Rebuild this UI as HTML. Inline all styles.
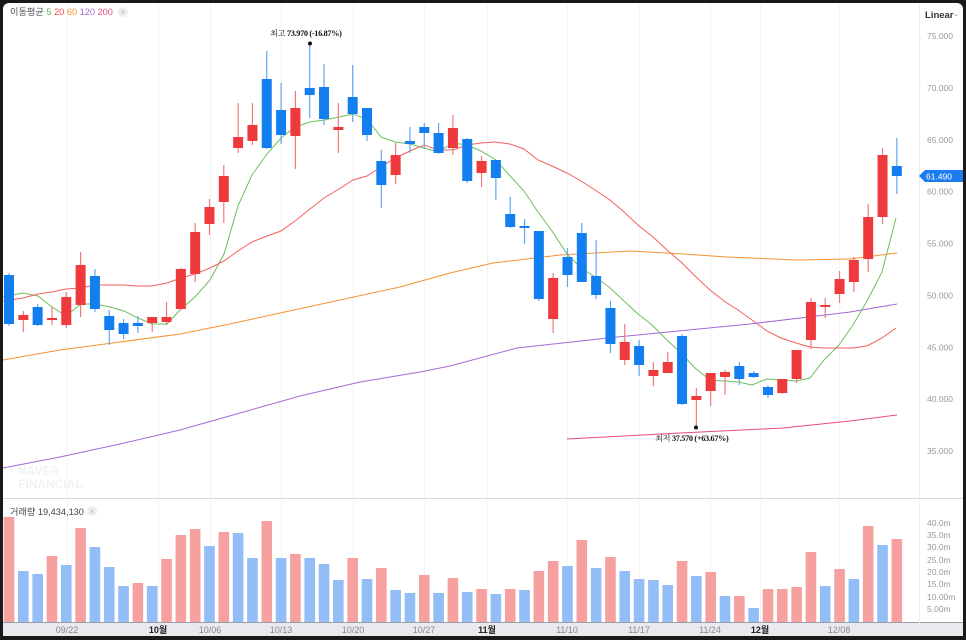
<!DOCTYPE html>
<html><head><meta charset="utf-8"><style>
html,body{margin:0;padding:0;background:#1a1a1a;}
#c{position:relative;width:966px;height:640px;overflow:hidden;background:#1a1a1a;}
svg{position:absolute;left:0;top:0;}
</style></head><body><div id="c">
<svg id="s" width="966" height="640" xmlns="http://www.w3.org/2000/svg" font-family="Liberation Sans, 'Noto Sans CJK KR', sans-serif">
<rect x="3" y="3" width="960" height="633" rx="6" fill="#ffffff"/>
<rect x="3" y="623" width="960" height="13" fill="#e9eaee"/>
<line x1="3" y1="622.5" x2="963" y2="622.5" stroke="#9aa0a8" stroke-width="1"/>
<line x1="3" y1="498.5" x2="963" y2="498.5" stroke="#d8dbe0" stroke-width="1"/>
<line x1="919.5" y1="3" x2="919.5" y2="636" stroke="#eceef1" stroke-width="1"/>
<g id="grid"></g>
<g id="ma"></g>
<g id="cand"></g>
<g id="vol"></g>
<g id="txt" font-size="9" fill="#888"></g>
<text x="10" y="15" font-size="9.2" fill="#555">이동평균 <tspan fill="#5cb85c">5</tspan> <tspan fill="#f04848">20</tspan> <tspan fill="#f5922f">60</tspan> <tspan fill="#a56ad8">120</tspan> <tspan fill="#e84a86">200</tspan></text>
<circle cx="123" cy="12" r="5" fill="#eeeeee"/><text x="120.5" y="15" font-size="8" fill="#bbb">×</text>
<text x="10" y="515" font-size="9.2" fill="#444">거래량 19,434,130</text>
<circle cx="92" cy="511" r="5" fill="#eeeeee"/><text x="89.5" y="514" font-size="8" fill="#bbb">×</text>
<text x="925" y="18" font-size="9.5" font-weight="bold" fill="#333">Linear</text>
<text x="953" y="16" font-size="7" fill="#999">⌄</text>
<text x="270" y="36" font-size="8.2" fill="#111" letter-spacing="-0.3" font-family="Liberation Serif, 'Noto Serif CJK SC', serif">최고 <tspan font-weight="bold">73.970 (-16.87%)</tspan></text>
<circle cx="310" cy="43.5" r="2" fill="#111"/>
<circle cx="696" cy="427.5" r="2" fill="#111"/>
<text x="655" y="441" font-size="8.2" fill="#111" letter-spacing="-0.3" font-family="Liberation Serif, 'Noto Serif CJK SC', serif">최저 <tspan font-weight="bold">37.570 (+63.67%)</tspan></text>
<path d="M919 176 L925 170 L963 170 L963 182 L925 182 Z" fill="#1b7cf0"/>
<text x="926" y="179.5" font-size="8.5" fill="#fff">61.490</text>
<text x="18" y="475" font-size="12" font-weight="bold" fill="#f1f2f5">NAVER</text>
<text x="18" y="488" font-size="12" font-weight="bold" fill="#f1f2f5">FINANCIAL</text>
</svg>
<script>
var NS="http://www.w3.org/2000/svg";
function el(p,t,a,txt){var e=document.createElementNS(NS,t);for(var k in a)e.setAttribute(k,a[k]);if(txt)e.textContent=txt;document.getElementById(p).appendChild(e);return e;}
function X(i){return 9+14.32*i;}
var xl=[[67,"09/22",0],[158,"10월",1],[210,"10/06",0],[281,"10/13",0],[353,"10/20",0],[424,"10/27",0],[487,"11월",1],[567,"11/10",0],[639,"11/17",0],[710,"11/24",0],[760,"12월",1],[839,"12/08",0]];
xl.forEach(function(l){el("grid","line",{x1:l[0]+.5,y1:3,x2:l[0]+.5,y2:622,stroke:"#f2f3f5","stroke-width":1});
el("txt","text",{x:l[0],y:633,"text-anchor":"middle","font-size":9,fill:l[2]?"#222":"#888","font-weight":l[2]?"bold":"normal"},l[1]);});
for(var k=0;k<9;k++){var p=75-5*k;el("txt","text",{x:927,y:39+51.875*k,"font-size":8.5,fill:"#999"},p+".000");}
var vl=[["40.0m",523],["35.0m",535],["30.0m",547],["25.0m",560],["20.0m",572],["15.0m",584],["10.00m",597],["5.00m",609]];
vl.forEach(function(v){el("txt","text",{x:927,y:v[1]+3,"font-size":8.5,fill:"#999"},v[0]);});
var C=[[275,324,273,326,0],[315,320,311,332,1],[307,325,304,326,0],[318,320,307,325,1],[297,325,292,328,1],[265,305,252,317,1],[276,309,269,312,0],[316,330,310,345,0],[323,334,319,339,0],[323,326,316,333,0],[317,323,317,332,1],[317,322,302,325,1],[269,309,268,310,1],[232,274,223,282,1],[207,224,199,235,1],[176,202,165,223,1],[137,148,103,153,1],[125,141,103,145,1],[79,148,51,149,0],[110,135,83,144,0],[108,136,91,169,1],[88,95,44,118,0],[87,119,64,125,0],[127,130,103,153,1],[97,114,65,122,0],[108,135,108,141,0],[161,185,150,208,0],[155,175,143,184,1],[141,144,127,153,0],[127,133,123,149,0],[133,153,123,154,0],[128,148,115,155,1],
[139,181,138,183,0],[161,173,156,187,1],[160,178,160,200,0],[214,227,197,228,0],[226,228,219,244,0],[231,299,231,301,0],[278,319,273,333,1],[257,275,248,287,0],[233,282,223,282,0],[276,295,240,299,0],[308,344,301,353,0],[342,360,324,365,1],[346,365,340,376,0],[370,376,362,386,1],[362,373,352,373,1],[336,404,334,405,0],[396,400,388,428,1],[373,391,373,406,1],[372,377,370,395,1],[366,379,362,385,0],[373,377,371,378,0],[387,395,385,398,0],[379,393,379,394,1],[350,379,350,383,1],[302,340,298,349,1],[305,307,298,318,1],[279,294,271,303,1],[260,282,257,292,1],[217,259,204,272,1],[155,217,148,224,1],[166,176,138,194,0]];
C.forEach(function(c,i){var x=X(i),col=c[4]?"#ee3a3d":"#137ef0",wc=c[4]?"#f27a7c":"#5fa6f5";
el("cand","line",{x1:x,y1:c[2],x2:x,y2:c[3],stroke:wc,"stroke-width":1.2});
el("cand","rect",{x:x-5,y:c[0],width:10,height:Math.max(2,c[1]-c[0]),fill:col});});
var V=[[517,1],[571,0],[574,0],[556,1],[565,0],[528,1],[547,0],[567,0],[586,0],[583,1],[586,0],[559,1],[535,1],[529,1],[546,0],[532,1],[533,0],[558,0],[521,1],[558,0],[554,1],[558,0],[564,0],[580,0],[558,1],[579,0],[568,1],[590,0],[593,0],[575,1],[593,0],[578,1],[592,0],[589,1],[594,0],[589,1],[590,0],[571,1],[561,1],[566,0],[540,1],[568,0],[557,1],[571,0],[579,0],[580,0],[585,0],[561,1],[576,0],[572,1],[596,0],[596,1],[608,0],[589,1],[589,1],[587,1],[552,1],[586,0],[569,1],[579,0],[526,1],[545,0],[539,1]];
V.forEach(function(v,i){var x=X(i);el("vol","rect",{x:x-5.3,y:v[0],width:10.6,height:622-v[0],fill:v[1]?"#f7a0a0":"#92bdf6"});});
function pl(pts,c){el("ma","polyline",{points:pts.map(function(p){return p.join(",")}).join(" "),fill:"none",stroke:c,"stroke-width":1});}
pl([[3,297],[23,293],[38,296],[52,307],[66,316],[81,304],[95,304],[110,307],[124,311],[138,318],[152,324],[167,324],[181,309],[195,297],[210,280],[224,254],[238,206],[252,175],[267,154],[281,138],[295,127],[310,122],[324,120],[339,117],[353,114],[367,119],[381,137],[395,142],[410,144],[424,148],[438,152],[453,143],[467,145],[481,151],[496,160],[510,176],[524,191],[538,212],[552,231],[567,254],[581,268],[595,277],[609,287],[624,301],[638,314],[652,325],[667,340],[681,353],[695,368],[710,380],[724,381],[738,382],[752,385],[767,379],[781,380],[796,381],[810,378],[824,360],[839,345],[853,325],[867,301],[882,272],[896,218]],"#6cc05a");
pl([[3,301],[23,298],[38,294],[52,292],[66,289],[81,288],[95,285],[110,285],[124,285],[138,286],[152,286],[167,283],[181,278],[195,274],[210,268],[224,261],[238,251],[252,242],[267,236],[281,231],[295,221],[310,209],[324,198],[339,189],[353,180],[367,176],[381,167],[395,158],[410,151],[424,145],[438,150],[453,150],[467,145],[481,143],[495,142],[510,144],[524,149],[538,160],[552,166],[567,173],[581,181],[595,190],[610,200],[624,212],[638,225],[653,237],[667,250],[681,262],[695,276],[710,290],[724,301],[738,310],[752,320],[767,331],[781,338],[796,343],[810,347],[824,348],[838,348],[853,348],[867,346],[882,338],[896,328]],"#f2605e");
pl([[3,360],[60,350],[120,342],[180,334],[230,324],[280,313],[340,300],[400,287],[450,273],[493,263],[560,255],[630,251],[683,254],[727,257],[797,260],[850,259],[897,253]],"#f5922f");
pl([[3,468],[60,457],[120,444],[180,430],[240,413],[300,396],[360,382],[420,372],[450,366],[517,348],[617,337],[750,324],[850,312],[897,304]],"#a56ad8");
pl([[567,439],[680,433],[783,428],[850,421],[897,415]],"#e84a86");
</script>
</div></body></html>
